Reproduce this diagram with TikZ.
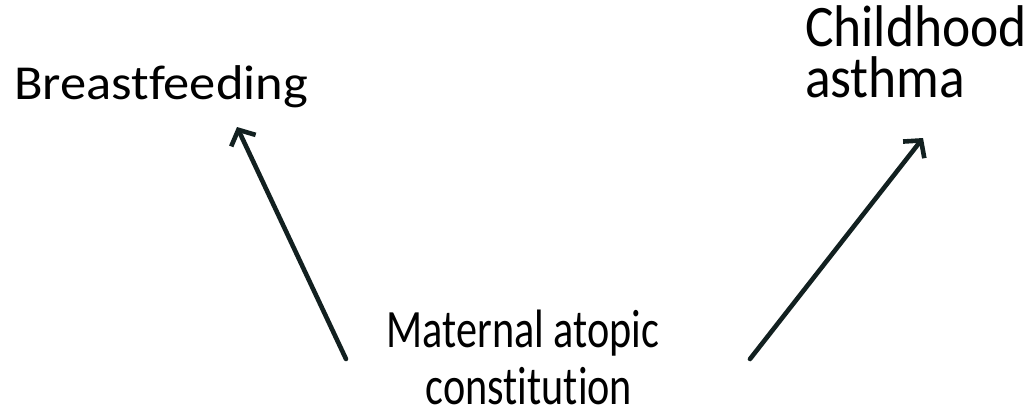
\documentclass[tikz,border=0pt]{standalone}
\usepackage{fontspec}
\setmainfont{Carlito}[Ligatures={CommonOff,RareOff,ContextualOff}]
\usetikzlibrary{arrows.meta}
\definecolor{arrowc}{RGB}{18,32,32}
\newcommand\linesL[2]{\vbox{\baselineskip=#1\relax\lineskiplimit=-1000pt\halign{##\hfil\cr#2\crcr}}}
\newcommand\linesC[2]{\vbox{\baselineskip=#1\relax\lineskiplimit=-1000pt\halign{\hfil##\hfil\cr#2\crcr}}}
\tikzset{
  lbl/.style={inner sep=0pt, outer sep=0pt, text=black},
  link/.style={draw=arrowc, line width=4.6pt, line cap=round,
    -{Straight Barb[length=12pt,width=27pt,line width=4.6pt]}}
}
\begin{document}
\begin{tikzpicture}[x=1pt,y=-1pt]
\useasboundingbox (0,0) rectangle (1030,415);
\node[lbl, anchor=base west, font={\fontsize{52.5}{50}\selectfont}] (bf) at (14,99)
  {\scalebox{1}[0.93]{Breastfeeding}};
\node[lbl, anchor=base west, font={\fontsize{53.5}{50}\selectfont}] (ca) at (805,97)
  {\scalebox{1}[1.1]{\linesL{45.5pt}{Childhood\cr asthma}}};
\node[lbl, anchor=base, font={\fontsize{42.2}{44}\selectfont}] (mac) at (529,404)
  {\scalebox{1}[1.28]{\linesC{44.5pt}{Maternal atopic\kern12pt\cr constitution}}};
\coordinate (s1) at (346,359);
\coordinate (t1) at (237,127);
\coordinate (s2) at (750,359);
\coordinate (t2) at (923,138);
\draw[link] (s1) -- (t1);
\draw[link] (s2) -- (t2);
\end{tikzpicture}
\end{document}
